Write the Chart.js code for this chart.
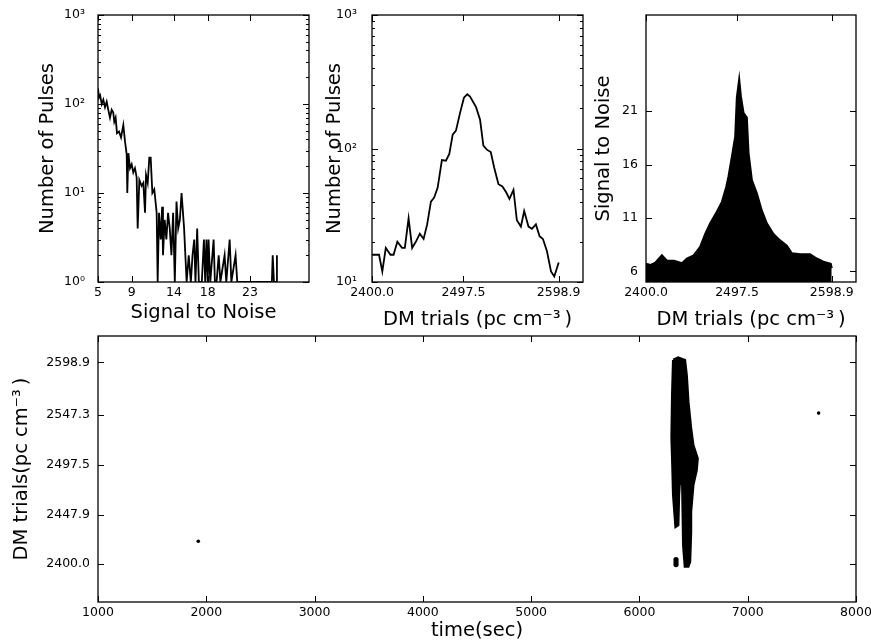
<!DOCTYPE html>
<html><head><meta charset="utf-8">
<script src="https://cdn.jsdelivr.net/npm/chart.js@4.4.1/dist/chart.umd.min.js"></script>
<style>
html,body{margin:0;padding:0;background:#fff;}
#wrap{position:relative;width:871px;height:644px;overflow:hidden;background:#fff;}
canvas{position:absolute;left:0;top:0;}
</style></head><body>
<div id="wrap">
<canvas id="c1" width="871" height="644"></canvas>
<canvas id="c2" width="871" height="644"></canvas>
<canvas id="c3" width="871" height="644"></canvas>
<canvas id="c4" width="871" height="644"></canvas>
</div>
<script>
// ---------------- DATA ----------------
// Panel 1: pulses per S/N bin
const snrBinCenters = [5.0,5.12,5.25,5.44,5.63,5.83,6.03,6.22,6.42,6.62,6.81,6.93,7.09,7.25,7.49,7.73,8.0,8.2,8.4,8.47,8.6,8.79,8.99,9.18,9.38,9.58,9.7,9.9,10.17,10.37,10.57,10.69,10.89,11.08,11.24,11.44,11.67,11.95,12.07,12.23,12.43,12.6,12.7,12.9,13.1,13.3,13.5,13.7,13.9,14.1,14.3,14.5,14.7,14.9,15.2,15.5,15.75,16.0,16.2,16.4,16.55,16.75,16.95,17.3,17.55,17.7,17.85,18.0,18.1,18.3,18.7,18.85,19.05,19.3,19.5,20.0,20.2,20.6,20.8,21.3,21.5,25.6,25.7,25.85,26.1,26.2];
const snrPulseCounts = [150,118,125,100,112,92,106,86,70,86,80,63,70,47,49,42,58,38,27,10,28,19,21,17,19,15,4,14,12,13,6,16,13,25,25,10,11,6,1,6,3,7,2,5,3,6,4,2,6,1,8,4,5,10,4,1,2,1,2,3,1,4,1,1,3,1,3,1,3,1,3,1,1,2,1,2,1,3,1,2,1,1,2,1,1,2];

// Panel 2: pulses per DM bin
const dmBinCenters = [2400,2403,2407.5,2411,2414.7,2419.7,2423,2427,2432,2435,2439,2442.8,2446.7,2451,2455,2458.8,2462.8,2466.3,2470,2474.5,2478.8,2482.4,2486,2489.5,2493.8,2498,2501.6,2504.5,2510.9,2515.2,2518.7,2522.4,2526.6,2530.2,2534.8,2539,2543,2546.5,2550.8,2554.4,2558.7,2562.2,2566.8,2570.5,2574.7,2578.6,2582.2,2586.5,2590.8,2594.3,2599];
const dmPulseCounts = [16,16,16,12,18,16,16,20,18,18,30,18,20,23,21,27,40,43,51,82,81,91,127,136,184,240,255,245,204,164,105,98,94,72,54,52,47,42,49,29,26,34,26,25,27,22,21,17,12,11,14];

// Panel 3: S/N vs DM (upper envelope of the pulses)
const dmTrialEnvelope = [2400,2405,2410,2417,2422.5,2430,2438.5,2443.8,2451,2458,2463.4,2468.8,2476,2481.3,2485.9,2488.4,2492,2495.5,2497.3,2499.8,2501.6,2504.4,2508,2509.8,2513.4,2518.7,2524,2529.4,2536.5,2543.6,2550.8,2556,2565,2575.7,2582.9,2590,2597.9,2598.9];
const snrEnvelope = [6.7,6.6,6.8,7.5,7.0,7.0,6.75,7.2,7.5,8.3,9.5,10.5,11.6,12.5,13.9,14.9,16.75,18.6,22.3,24.0,22.4,20.85,20.4,17.1,14.55,13.3,11.7,10.5,9.5,8.9,8.4,7.7,7.6,7.6,7.2,6.9,6.7,6.3];

// Panel 4: DM vs time — outline of the dense burst cluster, plus isolated pulses
const burstOutlineTime = [6312,6358,6420,6436,6451,6476,6497,6537,6528,6497,6476,6476,6467,6451,6420,6405,6396,6374,6365,6358,6334,6312,6303,6297,6303,6312];
const burstOutlineDM   = [2601.2,2603.5,2601,2586,2560,2533.7,2517,2504,2492.5,2477.6,2451,2431.5,2401.8,2397,2397,2418,2477.6,2484,2467.8,2438,2436.4,2467.8,2504,2524,2566.6,2601.2];
const clumpTime = [6338,6338,6338];
const clumpDM   = [2399,2401.5,2404];
const isolatedTime = [1926,7655];
const isolatedDM   = [2422,2548.7];

// Tick values / labels
const snrTicks = [5,9,14,18,23];
const countTicks1 = [1,10,100,1000];
const countTickLabels1 = ['10\u2070','10\u00b9','10\u00b2','10\u00b3'];
const countTicks2 = [10,100,1000];
const countTickLabels2 = ['10\u00b9','10\u00b2','10\u00b3'];
const dmTicks = [2400.0,2497.5,2598.9];
const snrTicks3 = [6,11,16,21];
const timeTicks = [1000,2000,3000,4000,5000,6000,7000,8000];
const dmTicks4 = [2400.0,2447.9,2497.5,2547.3,2598.9];

// ---------------- HELPERS ----------------
const FONT = 'DejaVu Sans';
Chart.defaults.font.family = FONT;
const W = 871, H = 644;
const TICK_FONT = {family: FONT, size: 12.5, lineHeight: 1.2};
const TITLE_FONT = {family: FONT, size: 19.5, lineHeight: 1.2};
const TITLE_LH = 19.5 * 1.2;

const zip = (xs, ys) => xs.map((x, i) => ({x, y: ys[i]}));

const mplFrame = {
  id: 'mplFrame',
  afterDatasetsDraw(chart) {
    const {ctx, chartArea: a} = chart;
    const xs = chart.scales.x, ys = chart.scales.y;
    const MAJ = 6, MIN = 3;
    ctx.save();
    ctx.strokeStyle = '#000';
    ctx.lineWidth = 1;
    ctx.beginPath();
    const vx = (v, len) => {
      const p = Math.round(xs.getPixelForValue(v)) + 0.5;
      ctx.moveTo(p, a.bottom); ctx.lineTo(p, a.bottom - len);
      ctx.moveTo(p, a.top); ctx.lineTo(p, a.top + len);
    };
    const hy = (v, len) => {
      const p = Math.round(ys.getPixelForValue(v)) + 0.5;
      ctx.moveTo(a.left, p); ctx.lineTo(a.left + len, p);
      ctx.moveTo(a.right, p); ctx.lineTo(a.right - len, p);
    };
    xs.ticks.forEach(t => vx(t.value, MAJ));
    ys.ticks.forEach(t => hy(t.value, MAJ));
    if (ys.type === 'logarithmic') {
      for (let e = Math.floor(Math.log10(ys.min)); Math.pow(10, e) < ys.max; e++) {
        for (let m = 2; m < 10; m++) {
          const v = m * Math.pow(10, e);
          if (v > ys.min && v < ys.max) hy(v, MIN);
        }
      }
    }
    ctx.stroke();
    ctx.lineWidth = 1.3;
    ctx.strokeRect(a.left, a.top, a.right - a.left, a.bottom - a.top);
    ctx.restore();
  }
};

// box: plot area; ytc: y title centre x; xtc: x title centre y
function makeChart(id, box, ax, datasets) {
  const yW = box.L + TITLE_LH / 2 - ax.ytc;
  const xH = ax.xtc - box.B + TITLE_LH / 2;
  const fixY = s => { s.width = yW; s.paddingTop = 0; s.paddingBottom = 0; s.paddingLeft = 0; s.paddingRight = 0; };
  const fixX = s => { s.height = xH; s.paddingTop = 0; s.paddingBottom = 0; s.paddingLeft = 0; s.paddingRight = 0; };
  return new Chart(document.getElementById(id), {
    type: 'line',
    data: {datasets},
    plugins: [mplFrame],
    options: {
      responsive: false, animation: false, devicePixelRatio: 1,
      events: [],
      layout: {padding: {left: box.L - yW, top: box.T, right: W - box.R, bottom: H - box.B - xH}},
      plugins: {legend: {display: false}, tooltip: {enabled: false}, title: {display: false}},
      scales: {
        x: {
          type: 'linear', position: 'bottom', min: ax.xmin, max: ax.xmax,
          grid: {display: false, drawTicks: false}, border: {display: false},
          afterBuildTicks: s => { s.ticks = ax.xticks.map(v => ({value: v})); },
          afterFit: fixX,
          ticks: {autoSkip: false, maxRotation: 0, minRotation: 0, padding: 3, color: '#000', font: TICK_FONT, callback: ax.xfmt},
          title: {display: true, text: ax.xtitle, color: '#000', font: TITLE_FONT, padding: 0}
        },
        y: {
          type: ax.ylog ? 'logarithmic' : 'linear', position: 'left', min: ax.ymin, max: ax.ymax,
          grid: {display: false, drawTicks: false}, border: {display: false},
          afterBuildTicks: s => { s.ticks = ax.yticks.map(v => ({value: v})); },
          afterFit: fixY,
          ticks: {autoSkip: false, padding: ax.ypad, color: '#000', font: TICK_FONT, callback: ax.yfmt},
          title: {display: true, text: ax.ytitle, color: '#000', font: TITLE_FONT, padding: 0}
        }
      }
    }
  });
}

const lineStyle = {borderColor: '#000', borderWidth: 1.8, pointRadius: 0, fill: false, tension: 0};

// Panel 1
makeChart('c1', {L: 98, T: 15, R: 309, B: 282}, {
  xmin: 5, xmax: 30, xticks: snrTicks, xfmt: v => String(v), xtitle: 'Signal to Noise', xtc: 313,
  ymin: 1, ymax: 1000, ylog: true, yticks: countTicks1, yfmt: v => countTickLabels1[countTicks1.indexOf(v)], ypad: 13,
  ytitle: 'Number of Pulses', ytc: 48
}, [Object.assign({data: zip(snrBinCenters, snrPulseCounts)}, lineStyle)]);

// Panel 2
makeChart('c2', {L: 372, T: 15, R: 583, B: 282}, {
  xmin: 2400, xmax: 2624.9, xticks: dmTicks, xfmt: v => v.toFixed(1), xtitle: 'DM trials (pc cm\u207b\u00b3\u2009)', xtc: 320,
  ymin: 10, ymax: 1000, ylog: true, yticks: countTicks2, yfmt: v => countTickLabels2[countTicks2.indexOf(v)], ypad: 15,
  ytitle: 'Number of Pulses', ytc: 335
}, [Object.assign({data: zip(dmBinCenters, dmPulseCounts)}, lineStyle)]);

// Panel 3
makeChart('c3', {L: 646, T: 15, R: 856, B: 282}, {
  xmin: 2400, xmax: 2624.9, xticks: dmTicks, xfmt: v => v.toFixed(1), xtitle: 'DM trials (pc cm\u207b\u00b3\u2009)', xtc: 320,
  ymin: 5, ymax: 30, ylog: false, yticks: snrTicks3, yfmt: v => String(v), ypad: 8,
  ytitle: 'Signal to Noise', ytc: 604
}, [{data: zip(dmTrialEnvelope, snrEnvelope), borderColor: '#000', backgroundColor: '#000', borderWidth: 2, pointRadius: 0, fill: 'start', tension: 0}]);

// Panel 4
makeChart('c4', {L: 98, T: 336, R: 856, B: 602}, {
  xmin: 1000, xmax: 8000, xticks: timeTicks, xfmt: v => String(v), xtitle: 'time(sec)', xtc: 631,
  ymin: 2362, ymax: 2624.9, ylog: false, yticks: dmTicks4, yfmt: v => v.toFixed(1), ypad: 8,
  ytitle: 'DM trials(pc cm\u207b\u00b3\u2009)', ytc: 22
}, [
  {data: zip(burstOutlineTime, burstOutlineDM), borderColor: '#000', backgroundColor: '#000', borderWidth: 2.5, pointRadius: 0, fill: 'shape', tension: 0},
  {data: zip(clumpTime, clumpDM), showLine: false, pointRadius: 2.6, pointBackgroundColor: '#000', pointBorderWidth: 0, borderColor: '#000'},
  {data: zip(isolatedTime, isolatedDM), showLine: false, pointRadius: 1.8, pointBackgroundColor: '#000', pointBorderWidth: 0, borderColor: '#000'}
]);
</script>
</body></html>
